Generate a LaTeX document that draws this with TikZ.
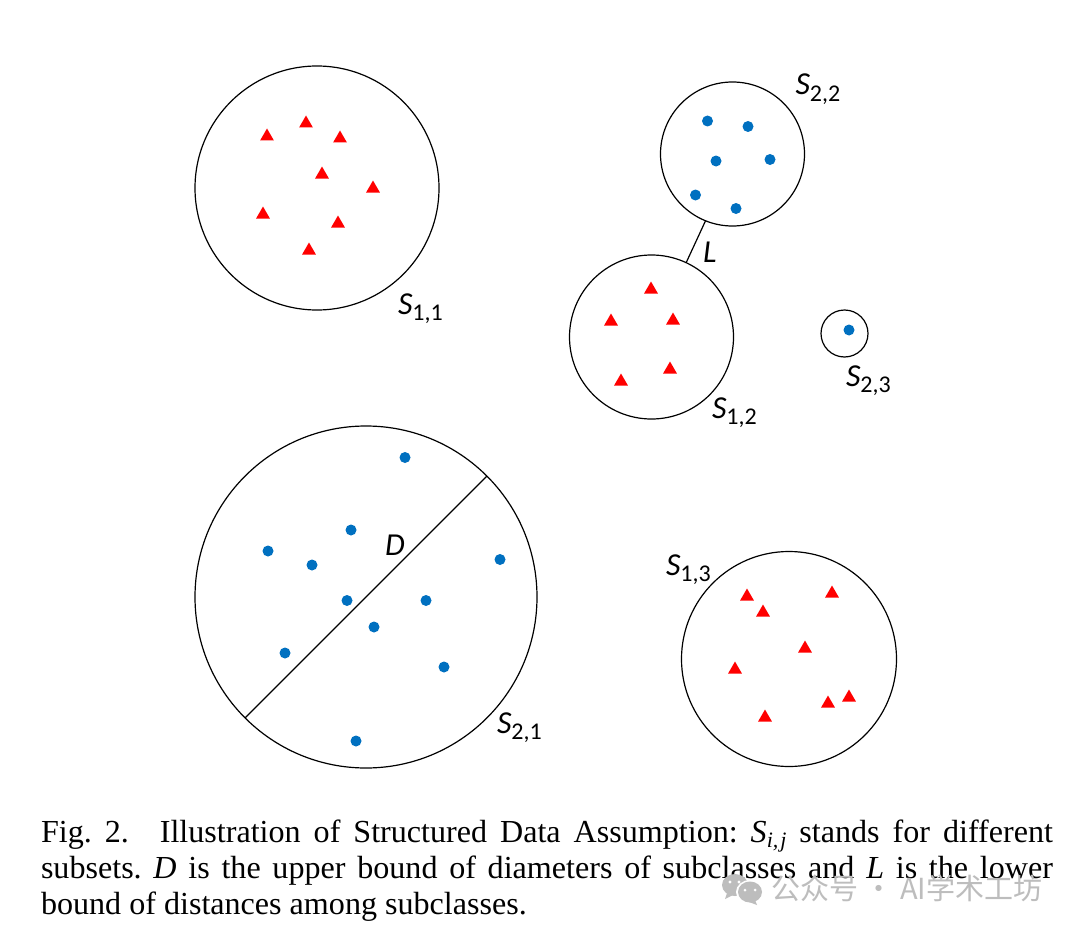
\documentclass[tikz,border=0pt]{standalone}
\usepackage{fontspec}
\usetikzlibrary{shapes.geometric}
\setmainfont{Liberation Serif}
\newfontfamily\labfont{Carlito}
\newfontfamily\cjkfont{Noto Sans CJK SC}
\definecolor{dotblue}{HTML}{0070C0}
\definecolor{wmgray}{HTML}{BDBDBD}
\newcommand{\subl}[2]{{\labfont\fontsize{32}{32}\selectfont\itshape #1\raisebox{-6.5pt}{\upshape\fontsize{24}{24}\selectfont #2}}}
\newcommand{\capit}[1]{{\itshape #1}}
\tikzset{
  bubble/.style={circle,draw=black,line width=1.2pt,inner sep=0pt,outer sep=0pt,fill=none},
  tri/.style={regular polygon,regular polygon sides=3,fill=red,draw=none,inner sep=0pt,outer sep=0pt,minimum size=16pt},
  dotm/.style={circle,fill=dotblue,draw=none,inner sep=0pt,outer sep=0pt,minimum size=11pt},
  lab/.style={inner sep=0pt,outer sep=0pt,anchor=base west},
  capline/.style={inner sep=0pt,outer sep=0pt,anchor=base west,font=\fontsize{32.1}{36}\selectfont\frenchspacing},
  meas/.style={line width=1.2pt,black}
}
\begin{document}
\begin{tikzpicture}[x=1pt,y=-1pt]
\useasboundingbox (0,0) rectangle (1073,931);
\fill[white] (0,0) rectangle (1073,931);
% circles
\node[bubble,minimum size=244pt] (s11) at (317,188) {};
\node[bubble,minimum size=164pt] (s12) at (651.5,337) {};
\node[bubble,minimum size=215pt] (s13) at (789,659) {};
\node[bubble,minimum size=342pt] (s21) at (366,597) {};
\node[bubble,minimum size=144pt] (s22) at (732.5,154) {};
\node[bubble,minimum size=47pt] (s23) at (844.5,333.5) {};
% connectors
\draw[meas] (s21.-135) -- (s21.45);
\draw[meas] (s22.248) -- (s12.65);
% triangles
\foreach \n/\x/\y in {a1/267/136.5,a2/306/123.5,a3/340/138.5,a4/322/174.5,a5/373/188.5,a6/263/214.5,a7/338/223.5,a8/309/250.5,
  b1/651/289.5,b2/611/321.5,b3/673/320.5,b4/670/369.5,b5/621/381.5,
  c1/747/596.5,c2/763/612.5,c3/832/593.5,c4/805/648.5,c5/735/669.5,c6/765/717.5,c7/828/703.5,c8/849/697.5}
  \node[tri] (\n) at (\x,\y) {};
% dots
\foreach \n/\x/\y in {d1/405/457.5,d2/351/530,d3/268/551,d4/312/565,d5/347/600.5,d6/426/600.5,d7/500/559.5,d8/374/627,d9/285/653,d10/444/667,d11/356/741,
  e1/707.5/121,e2/748/126.5,e3/716/161,e4/770/159.5,e5/695.5/195,e6/736/208.5,f1/849/330}
  \node[dotm] (\n) at (\x,\y) {};
% labels
\node[lab] (l11) at (398,314) {\subl{S}{1,1}};
\node[lab] (l22) at (795.5,95) {\subl{S}{2,2}};
\node[lab] (l12) at (712,418) {\subl{S}{1,2}};
\node[lab] (l23) at (846,386) {\subl{S}{2,3}};
\node[lab] (l13) at (666,575) {\subl{S}{1,3}};
\node[lab] (l21) at (497,733) {\subl{S}{2,1}};
\node[lab] (ld) at (385,555) {{\labfont\fontsize{32}{32}\selectfont\itshape D}};
\node[lab] (ll) at (703,262) {{\labfont\fontsize{32}{32}\selectfont\itshape L}};
% caption
\node[capline] (c1) at (41,842) {\hbox to 1012pt{Fig. 2.\hskip 31pt Illustration of Structured Data Assumption: {\itshape S}\raisebox{-5pt}{\fontsize{22}{22}\selectfont\itshape i,\hskip 2pt j} stands for different}};
\node[capline] (c2) at (41,878) {\hbox to 1012pt{subsets. \capit{D} is the upper bound of diameters of subclasses and \capit{L} is the lower}};
\node[capline] (c3) at (41,914) {bound of distances among subclasses.};
% watermark
\fill[wmgray] (735,885) ellipse (13pt and 11pt);
\fill[wmgray] (727,893) -- (725,899) -- (733,895) -- cycle;
\fill[white] (750,892) ellipse (14pt and 12pt);
\fill[wmgray] (750,892) ellipse (12pt and 10.5pt);
\fill[wmgray] (755,900) -- (757,905) -- (749,902) -- cycle;
\fill[white] (745,890) circle (1.5pt) (755,890) circle (1.5pt);
\fill[white] (730,882) circle (1.7pt) (739,882) circle (1.7pt);
\node[lab,text=wmgray,font=\fontsize{29}{29}\selectfont\cjkfont] (wm) at (771,899) {公众号 · AI学术工坊};
\end{tikzpicture}
\end{document}
